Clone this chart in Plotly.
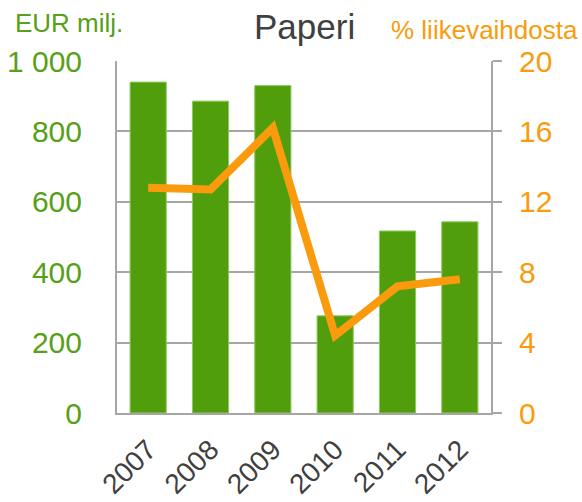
import plotly.graph_objects as go

years = ["2007", "2008", "2009", "2010", "2011", "2012"]
eur_milj = [940, 886, 930, 276, 517, 543]
pct_liikevaihdosta = [12.8, 12.7, 16.2, 4.4, 7.2, 7.6]
left_ticks = [0, 200, 400, 600, 800, 1000]
left_ticktext = ["0", "200", "400", "600", "800", "1 000"]
right_ticks = [0, 4, 8, 12, 16, 20]

GREEN = "#509E0C"
GREEN_TXT = "#57A01A"
ORANGE = "#F99B0C"
GRID = "#A6A6A6"
FONT = "Liberation Sans, Arial, sans-serif"

fig = go.Figure()
fig.add_trace(go.Bar(x=years, y=eur_milj, marker=dict(color=GREEN, line=dict(color="#8CC85A", width=1)),
                     yaxis="y", showlegend=False, hoverinfo="skip"))
fig.add_trace(go.Scatter(x=years, y=pct_liikevaihdosta, mode="lines",
                         line=dict(color=ORANGE, width=8), yaxis="y2", showlegend=False,
                         hoverinfo="skip"))

W, H = 582, 502
L, R, T, B = 117, 91, 61, 89
ph = H - T - B
pw = W - L - R

def py(p):
    return (H - B - p) / ph

def px(p):
    return (p - L) / pw

fig.update_layout(
    width=W, height=H,
    margin=dict(l=L, r=R, t=T, b=B, pad=0, autoexpand=False),
    plot_bgcolor="white", paper_bgcolor="white",
    bargap=0.42,
    font=dict(family=FONT),
    xaxis=dict(type="category", showline=True, linecolor=GRID, linewidth=2, automargin=False,
               tickangle=-45, tickfont=dict(size=28, color="#404040"),
               ticks="outside", ticklen=0, tickcolor=GRID, ticklabelstandoff=7,
               showgrid=False, range=[-0.5, 5.5]),
    yaxis=dict(range=[0, 1000], tickvals=left_ticks, ticktext=left_ticktext, automargin=False,
               tickfont=dict(size=30, color=GREEN_TXT), showgrid=True, gridcolor=GRID,
               gridwidth=2, showline=True, linecolor=GRID, linewidth=2, zeroline=False,
               ticks="", ticklabelstandoff=27),
    yaxis2=dict(range=[0, 20], tickvals=right_ticks, overlaying="y", side="right", automargin=False,
                tickfont=dict(size=30, color=ORANGE), showgrid=False,
                showline=True, linecolor=GRID, linewidth=2, zeroline=False,
                ticks="outside", ticklen=9, tickcolor=GRID, tickwidth=2,
                ticklabelstandoff=11),
    annotations=[
        dict(text="Paperi", x=px(304), y=py(26), xref="paper", yref="paper",
             xanchor="center", yanchor="middle", showarrow=False,
             font=dict(size=35, color="#404040", family=FONT)),
        dict(text="EUR milj.", x=px(13), y=py(23), xref="paper", yref="paper",
             xanchor="left", yanchor="middle", showarrow=False,
             font=dict(size=26, color=GREEN_TXT, family=FONT)),
        dict(text="% liikevaihdosta", x=px(580), y=py(30), xref="paper", yref="paper",
             xanchor="right", yanchor="middle", showarrow=False,
             font=dict(size=26, color=ORANGE, family=FONT)),
    ],
)

fig.write_html("out.html", config={"displayModeBar": False, "staticPlot": True},
               post_script="document.body.style.margin='0px';")
